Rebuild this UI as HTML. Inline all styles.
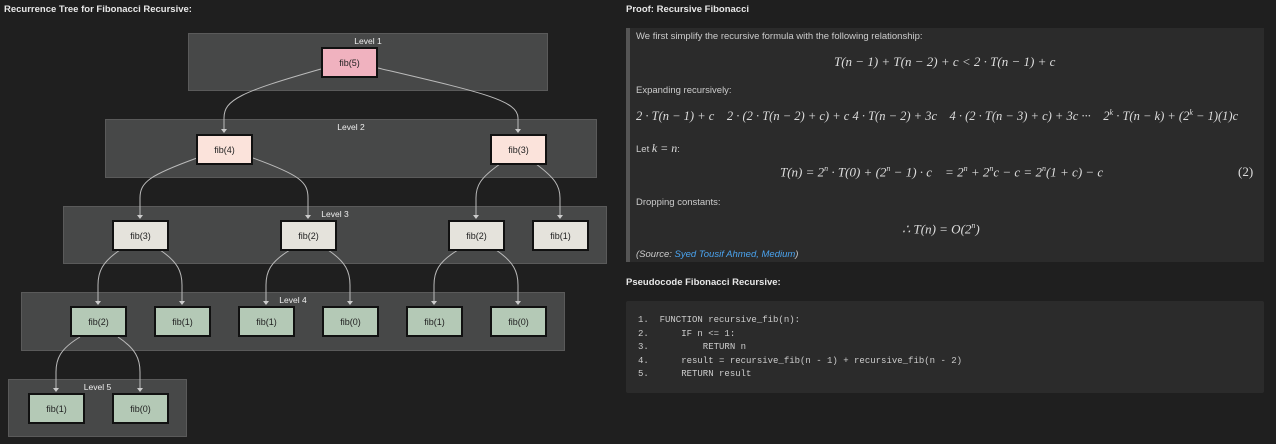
<!DOCTYPE html>
<html><head><meta charset="utf-8"><style>
*{margin:0;padding:0;box-sizing:border-box}
body{width:1276px;height:444px;background:#1f1f1f;font-family:"Liberation Sans",sans-serif;color:#ddd;position:relative;overflow:hidden}
.a{position:absolute;white-space:nowrap}
.h{font-size:9.5px;font-weight:bold;color:#e8e8e8}
.lv{position:absolute;background:#474848;border:1px solid #5a5a5a}
.lt{position:absolute;width:100%;text-align:center;top:2px;font-size:8.5px;color:#eee}
.n{position:absolute;width:57px;height:31px;border:2px solid #111;font-size:9px;color:#222;display:flex;align-items:center;justify-content:center}
.p{background:#f0b2bf}.q{background:#fbe3db}.r{background:#e5e3dc}.g{background:#b4c9b6}
.t{font-size:9.5px;color:#ccc}
.m{font-family:"Liberation Serif",serif;font-style:italic;font-size:13px;color:#ddd}
.c{font-family:"Liberation Mono",monospace;font-size:9px;color:#ccc;white-space:pre;line-height:13.5px}
</style></head><body>
<div class="a h" style="left:4px;top:4px">Recurrence Tree for Fibonacci Recursive:</div>
<div class="lv" style="left:188px;top:33px;width:360px;height:58px"><div class="lt">Level 1</div></div>
<div class="lv" style="left:105px;top:119px;width:492px;height:59px"><div class="lt">Level 2</div></div>
<div class="lv" style="left:63px;top:206px;width:544px;height:58px"><div class="lt">Level 3</div></div>
<div class="lv" style="left:21px;top:292px;width:544px;height:59px"><div class="lt">Level 4</div></div>
<div class="lv" style="left:8px;top:379px;width:179px;height:58px"><div class="lt">Level 5</div></div>
<svg class="a" style="left:0;top:0" width="620" height="444" fill="none" stroke="#bbb" stroke-width="1">
<g>
<path d="M321 69 C240 92,224 100,224 118 L224 130"/>
<path d="M378 68 C480 92,518 100,518 118 L518 130"/>
<path d="M197 158 C150 175,140 182,140 198 L140 216"/>
<path d="M253 158 C300 175,308 182,308 198 L308 216"/>
<path d="M500 164 C480 178,476 186,476 198 L476 216"/>
<path d="M536 164 C555 178,560 186,560 198 L560 216"/>
<path d="M120 250 C102 262,98 272,98 285 L98 302"/>
<path d="M160 250 C178 262,182 272,182 285 L182 302"/>
<path d="M290 250 C270 262,266 272,266 285 L266 302"/>
<path d="M328 250 C346 262,350 272,350 285 L350 302"/>
<path d="M458 250 C438 262,434 272,434 285 L434 302"/>
<path d="M496 250 C514 262,518 272,518 285 L518 302"/>
<path d="M80 337 C60 349,56 359,56 372 L56 389"/>
<path d="M118 337 C136 349,140 359,140 372 L140 389"/>
</g>
<g fill="#ccc" stroke="none">
<path d="M221 129h6l-3 4z"/><path d="M515 129h6l-3 4z"/>
<path d="M137 215h6l-3 4z"/><path d="M305 215h6l-3 4z"/><path d="M473 215h6l-3 4z"/><path d="M557 215h6l-3 4z"/>
<path d="M95 301h6l-3 4z"/><path d="M179 301h6l-3 4z"/><path d="M263 301h6l-3 4z"/><path d="M347 301h6l-3 4z"/><path d="M431 301h6l-3 4z"/><path d="M515 301h6l-3 4z"/>
<path d="M53 388h6l-3 4z"/><path d="M137 388h6l-3 4z"/>
</g></svg>
<div class="n p" style="left:321px;top:47px">fib(5)</div>
<div class="n q" style="left:196px;top:134px">fib(4)</div>
<div class="n q" style="left:490px;top:134px">fib(3)</div>
<div class="n r" style="left:112px;top:220px">fib(3)</div>
<div class="n r" style="left:280px;top:220px">fib(2)</div>
<div class="n r" style="left:448px;top:220px">fib(2)</div>
<div class="n r" style="left:532px;top:220px">fib(1)</div>
<div class="n g" style="left:70px;top:306px">fib(2)</div>
<div class="n g" style="left:154px;top:306px">fib(1)</div>
<div class="n g" style="left:238px;top:306px">fib(1)</div>
<div class="n g" style="left:322px;top:306px">fib(0)</div>
<div class="n g" style="left:406px;top:306px">fib(1)</div>
<div class="n g" style="left:490px;top:306px">fib(0)</div>
<div class="n g" style="left:28px;top:393px">fib(1)</div>
<div class="n g" style="left:112px;top:393px">fib(0)</div>

<div class="a h" style="left:626px;top:4px">Proof: Recursive Fibonacci</div>
<div class="a" style="left:626px;top:28px;width:638px;height:234px;background:#2b2b2b;border-left:4px solid #555"></div>
<div class="a t" style="left:636px;top:31px">We first simplify the recursive formula with the following relationship:</div>
<div class="a m" style="left:834px;top:54px">T(n − 1) + T(n − 2) + c &lt; 2 · T(n − 1) + c</div>
<div class="a t" style="left:636px;top:85px">Expanding recursively:</div>
<div class="a m" style="left:636px;top:108px;font-size:12.5px">2 · T(n − 1) + c &nbsp;&nbsp; 2 · (2 · T(n − 2) + c) + c 4 · T(n − 2) + 3c &nbsp;&nbsp; 4 · (2 · T(n − 3) + c) + 3c ··· &nbsp;&nbsp; 2<sup style="font-size:8px">k</sup> · T(n − k) + (2<sup style="font-size:8px">k</sup> − 1)(1)c</div>
<div class="a t" style="left:636px;top:141px">Let <span class="m" style="font-size:12px">k = n</span>:</div>
<div class="a m" style="left:780px;top:164px">T(n) = 2<sup style="font-size:8px">n</sup> · T(0) + (2<sup style="font-size:8px">n</sup> − 1) · c &nbsp;&nbsp; = 2<sup style="font-size:8px">n</sup> + 2<sup style="font-size:8px">n</sup>c − c = 2<sup style="font-size:8px">n</sup>(1 + c) − c</div>
<div class="a m" style="left:1238px;top:164px;font-style:normal">(2)</div>
<div class="a t" style="left:636px;top:197px">Dropping constants:</div>
<div class="a m" style="left:902px;top:221px">∴ T(n) = O(2<sup style="font-size:8px">n</sup>)</div>
<div class="a t" style="left:636px;top:249px;font-style:italic">(Source: <span style="color:#4aa3ef">Syed Tousif Ahmed, Medium</span>)</div>

<div class="a h" style="left:626px;top:277px">Pseudocode Fibonacci Recursive:</div>
<div class="a" style="left:626px;top:301px;width:638px;height:92px;background:#2b2b2b;border-radius:2px"></div>
<div class="a c" style="left:638px;top:314px">1.  FUNCTION recursive_fib(n):
2.      IF n &lt;= 1:
3.          RETURN n
4.      result = recursive_fib(n - 1) + recursive_fib(n - 2)
5.      RETURN result</div>
</body></html>
